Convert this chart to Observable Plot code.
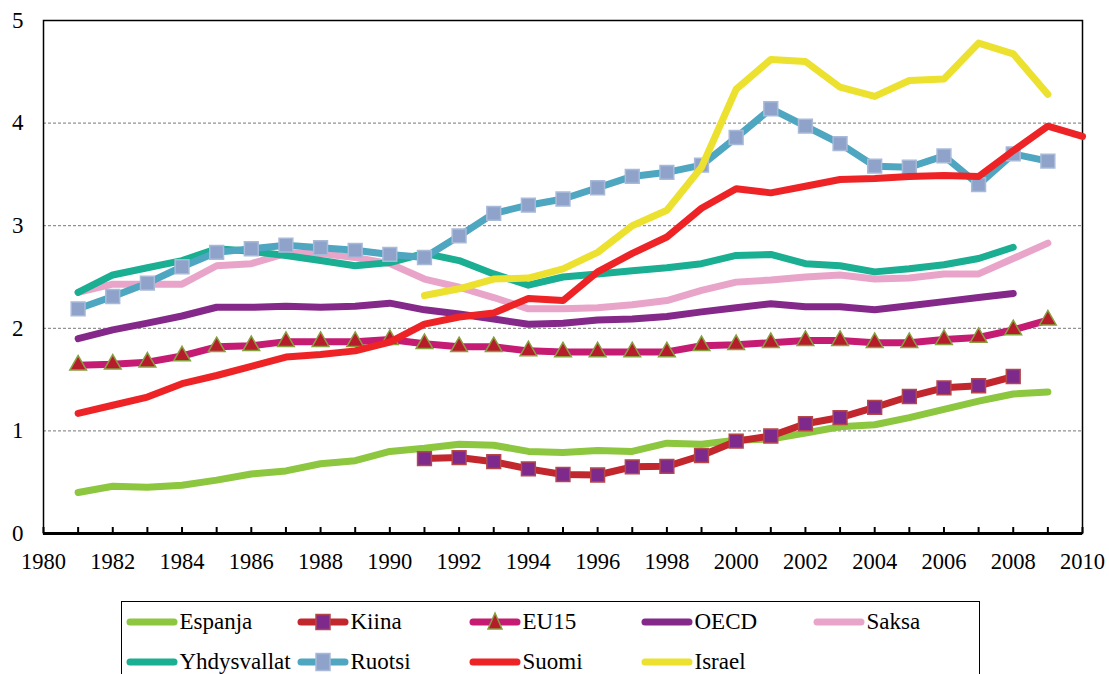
<!DOCTYPE html>
<html><head><meta charset="utf-8">
<script src="https://cdn.jsdelivr.net/npm/d3@7"></script>
<script src="https://cdn.jsdelivr.net/npm/@observablehq/plot@0.6"></script>
<style>
html,body{margin:0;padding:0;background:#fff;overflow:hidden}
#wrap{position:relative;width:1109px;height:674px;font-family:'Liberation Serif','Times New Roman',serif}
#legend{position:absolute;left:121px;top:601px;width:859px;height:100px;border:1.5px solid #000;box-sizing:border-box}
.item{position:absolute;display:flex;align-items:center;height:30px;font-size:23px;white-space:nowrap;color:#000}
.item svg{display:block;margin-right:2px}
</style></head><body><div id="wrap"></div>
<script>
const years = d3.range(1981, 2011);
const espanja = [0.40,0.46,0.45,0.47,0.52,0.58,0.61,0.68,0.71,0.80,0.83,0.87,0.86,0.80,0.79,0.81,0.80,0.88,0.87,0.91,0.92,0.98,1.04,1.06,1.13,1.21,1.29,1.36,1.38,null];
const kiina = [null,null,null,null,null,null,null,null,null,null,0.73,0.74,0.70,0.63,0.575,0.57,0.65,0.655,0.76,0.90,0.95,1.07,1.13,1.23,1.335,1.42,1.44,1.53,null,null];
const eu15 = [1.64,1.65,1.67,1.73,1.82,1.83,1.87,1.87,1.87,1.89,1.85,1.82,1.82,1.78,1.77,1.77,1.77,1.77,1.83,1.84,1.86,1.88,1.88,1.86,1.86,1.89,1.91,1.985,2.08,null];
const oecd = [1.90,1.985,2.05,2.12,2.205,2.205,2.215,2.205,2.215,2.245,2.18,2.14,2.09,2.04,2.05,2.08,2.09,2.115,2.16,2.20,2.24,2.21,2.21,2.18,2.22,2.26,2.30,2.34,null,null];
const saksa = [2.35,2.43,2.43,2.43,2.61,2.63,2.73,2.73,2.69,2.63,2.48,2.40,2.30,2.19,2.19,2.20,2.23,2.27,2.37,2.45,2.47,2.50,2.52,2.48,2.49,2.53,2.53,2.68,2.83,null];
const yhdysvallat = [2.35,2.52,2.59,2.66,2.775,2.75,2.71,2.66,2.61,2.64,2.73,2.66,2.53,2.42,2.50,2.53,2.56,2.59,2.63,2.71,2.72,2.63,2.61,2.55,2.58,2.62,2.68,2.79,null,null];
const ruotsi = [2.19,2.31,2.44,2.60,2.74,2.775,2.81,2.785,2.76,2.72,2.69,2.90,3.12,3.20,3.26,3.37,3.48,3.52,3.59,3.86,4.14,3.97,3.80,3.58,3.57,3.68,3.40,3.70,3.63,null];
const suomi = [1.17,1.25,1.33,1.46,1.54,1.63,1.72,1.745,1.78,1.865,2.04,2.11,2.15,2.29,2.27,2.55,2.73,2.89,3.17,3.36,3.32,3.385,3.45,3.46,3.48,3.49,3.48,3.73,3.97,3.87];
const israel = [null,null,null,null,null,null,null,null,null,null,2.32,2.385,2.48,2.49,2.58,2.74,3.00,3.15,3.57,4.33,4.62,4.60,4.35,4.26,4.415,4.43,4.78,4.675,4.28,null];

const seriesNames = ["Espanja","Kiina","EU15","OECD","Saksa","Yhdysvallat","Ruotsi","Suomi","Israel"];
const seriesValues = [espanja,kiina,eu15,oecd,saksa,yhdysvallat,ruotsi,suomi,israel];
const lineColors = ["#8dc63f","#c1272d","#c51b72","#84298a","#e9a5c9","#1aae92","#4ea6c0","#ee2326","#ece12f"];
const markerTypes = [null,"square","triangle",null,null,null,"square",null,null];
const markerFills = [null,"#7e2a8c","#b71c2b",null,null,null,"#8fa3ca",null,null];
const markerStrokes = [null,"#b5474b","#86a03f",null,null,null,"#a9bad9",null,null];
const xTicks = d3.range(1980, 2011, 2);
const yTicks = [0,1,2,3,4,5];
const gridValues = [1,2,3,4];
const minorYears = d3.range(1980, 2011);

const rows = seriesNames.map((name,k)=>years.map((year,i)=>({name, year, value: seriesValues[k][i]})));
const fontStack = "'Liberation Serif', 'Times New Roman', serif";

const marks = [
  Plot.gridY(gridValues, {stroke:"#777", strokeOpacity:1, strokeDasharray:"3,2", strokeWidth:1}),
  Plot.frame({stroke:"#000", strokeWidth:1.5}),
  Plot.ruleY([0], {stroke:"#000", strokeWidth:3}),
  Plot.tickX(minorYears, {x:d=>d, insetTop:507, stroke:"#000", strokeWidth:2}),
  Plot.axisY({ticks:yTicks, tickSize:0, tickPadding:20, tickFormat:d=>String(d), label:null, fontSize:23}),
  Plot.axisX({ticks:xTicks, tickSize:0, tickPadding:20, tickFormat:d=>String(d), label:null, fontSize:22.5})
];
seriesNames.forEach((name,k)=>{
  marks.push(Plot.line(rows[k], {x:"year", y:"value", stroke:lineColors[k], strokeWidth:7, strokeLinecap:"round", strokeLinejoin:"round"}));
  if (markerTypes[k]) {
    marks.push(Plot.dot(rows[k].filter(d=>d.value!=null), {x:"year", y:"value", symbol:markerTypes[k], r: markerTypes[k]==="square" ? 7.8 : 6.2, fill:markerFills[k], stroke:markerStrokes[k], strokeWidth:1.5}));
  }
});

const chart = Plot.plot({
  width:1109, height:590,
  marginLeft:43, marginRight:27, marginTop:20, marginBottom:57,
  x:{domain:[1980,2010], label:null},
  y:{domain:[0,5], label:null},
  style:{fontFamily:fontStack, fontSize:"22px", background:"#fff", color:"#000"},
  marks
});
chart.setAttribute("font-family", "Liberation Serif");
chart.querySelectorAll("text").forEach(el => { el.style.fontFamily = fontStack; });
const wrap = document.getElementById("wrap");
wrap.appendChild(chart);

// legend
const legend = document.createElement("div");
legend.id = "legend";
wrap.appendChild(legend);
const legendCols = [126,297,469,641,813];
const legendRows = [622,662];
seriesNames.forEach((name,k)=>{
  const col = k<5 ? k : k-5, row = k<5 ? 0 : 1;
  const item = document.createElement("div");
  item.className = "item";
  item.style.fontFamily = fontStack;
  item.style.left = (legendCols[col]-121-1.5)+"px";
  item.style.top = (legendRows[row]-15-601-1.5)+"px";
  let mk = "";
  if (markerTypes[k]==="square") {
    const w = 14, h = k===6 ? 17 : 15;
    mk = `<rect x="${26-w/2}" y="${15-h/2}" width="${w}" height="${h}" fill="${markerFills[k]}" stroke="${markerStrokes[k]}" stroke-width="1.5"/>`;
  } else if (markerTypes[k]==="triangle") {
    mk = `<path d="M26,6 L33,22 L19,22 Z" fill="${markerFills[k]}" stroke="${markerStrokes[k]}" stroke-width="1.5"/>`;
  }
  item.innerHTML = `<svg width="52" height="30"><line x1="4" x2="48" y1="15" y2="15" stroke="${lineColors[k]}" stroke-width="7" stroke-linecap="round"/>${mk}</svg><span>${name}</span>`;
  legend.appendChild(item);
});
</script></body></html>
